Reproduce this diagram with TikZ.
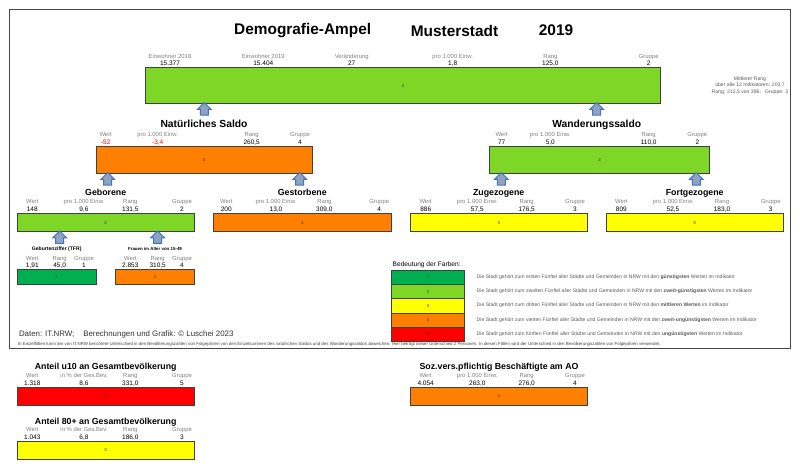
\documentclass[tikz,border=0pt]{standalone}
\usepackage{fontspec}
\setmainfont{Liberation Sans}
\usetikzlibrary{positioning,shapes.arrows}
\definecolor{group1color}{RGB}{0, 176, 80}
\definecolor{group2color}{RGB}{126, 215, 38}
\definecolor{group3color}{RGB}{255, 255, 0}
\definecolor{group4color}{RGB}{255, 128, 0}
\definecolor{group5color}{RGB}{255, 0, 0}
\definecolor{arrowcolor}{RGB}{68, 114, 196}
\definecolor{arrowfill}{RGB}{143, 163, 191}
\definecolor{framecolor}{RGB}{70, 70, 70}
\tikzset{
    txt/.style={inner sep=0pt, outer sep=0pt},
    main title/.style={txt, font=\fontsize{15.4}{18}\selectfont\bfseries},
    big head/.style={txt, text height=.75em, text depth=.2em, yshift=-0.8pt, font=\fontsize{10.3}{12}\selectfont\bfseries},
    head/.style={txt, text height=.75em, text depth=.2em, yshift=-0.7pt, font=\fontsize{8.8}{11}\selectfont\bfseries},
    small head/.style={txt, font=\fontsize{4.4}{6}\selectfont\bfseries},
    stat label/.style={txt, text=gray, text height=4.3pt, text depth=1.2pt, yshift=-0.6pt, font=\fontsize{5.9}{7}\selectfont},
    stat value/.style={txt, text height=4.6pt, text depth=1.2pt, font=\fontsize{6.5}{8}\selectfont},
    legend text/.style={txt, anchor=west, text=black!65, font=\fontsize{5.1}{6}\selectfont},
    note/.style={txt, text=black!75, font=\fontsize{4.38}{5}\selectfont},
    bar/.style={rectangle, draw=black!75, line width=0.9pt, inner sep=0pt, font=\fontsize{4.4}{5}\selectfont, text=black!80},
    group1/.style={bar, fill=group1color},
    group2/.style={bar, fill=group2color},
    group3/.style={bar, fill=group3color},
    group4/.style={bar, fill=group4color},
    group5/.style={bar, fill=group5color},
    up arrow/.style={single arrow, shape border rotate=90, draw=arrowcolor, fill=arrowfill, line width=1pt,
        inner sep=0pt, text width=7pt, minimum width=12.5pt, minimum height=12.5pt, single arrow head extend=2.8pt, single arrow head indent=0pt}
}
\begin{document}
\begin{tikzpicture}[x=1pt,y=-1pt]
\useasboundingbox (0,0) rectangle (800,469);
\node[rectangle, draw=framecolor, line width=1pt, inner sep=0pt, minimum width=781.5pt, minimum height=339pt] (frame) at (400,178.5) {};

% titles
\node[main title] (title) at (302.7,30.5) {Demografie-Ampel};
\node[main title] (city) at (454.5,30.5) {Musterstadt};
\node[main title] (year) at (556,30.5) {2019};

% bars
\node[group2, minimum width=515pt, minimum height=36pt] (total) at (403.1,85.6) {2};
\node[group4, minimum width=216.5pt, minimum height=27pt] (natural) at (204.2,159.5) {4};
\node[group2, minimum width=220.2pt, minimum height=27pt] (migration) at (599.6,159.5) {2};
\node[group2, minimum width=177.3pt, minimum height=17.6pt] (births) at (105.7,222.5) {2};
\node[group4, minimum width=178pt, minimum height=17.6pt] (deaths) at (302.3,222.5) {4};
\node[group3, minimum width=177pt, minimum height=17.6pt] (arrivals) at (498.8,222.5) {3};
\node[group3, minimum width=177pt, minimum height=17.6pt] (departures) at (694.5,222.5) {3};
\node[group1, minimum width=79.3pt, minimum height=14.7pt] (tfr) at (56.7,276.7) {1};
\node[group4, minimum width=79pt, minimum height=14.7pt] (women) at (154.8,276.7) {4};
\node[group5, minimum width=177.3pt, minimum height=18pt] (under) at (105.7,396) {5};
\node[group3, minimum width=177.3pt, minimum height=18pt] (over) at (105.7,450.3) {3};
\node[group4, minimum width=177pt, minimum height=18pt] (workers) at (498.8,396) {4};

% arrows
\foreach \name/\xx/\yy in {a/204.3/110.8, b/596.7/110.8, c/107.7/180.8, d/299.7/180.8, e/501.3/180.8, f/696.3/180.8, g/59.7/239.2, h/157.7/239.2}
    \node[up arrow] (arrow\name) at (\xx,\yy) {};

% headings
\node[big head] (hnatural) at (204,124.3) {Natürliches Saldo};
\node[big head] (hmigration) at (596.7,124.3) {Wanderungssaldo};
\node[head] (hbirths) at (105.7,192.3) {Geborene};
\node[head] (hdeaths) at (302.3,192.3) {Gestorbene};
\node[head] (harrivals) at (498.7,192.3) {Zugezogene};
\node[head] (hdepartures) at (694.7,192.3) {Fortgezogene};
\node[head] (hunder) at (105.7,366) {Anteil u10 an Gesamtbevölkerung};
\node[head] (hover) at (105.7,420.7) {Anteil 80+ an Gesamtbevölkerung};
\node[head] (hworkers) at (499,366) {Soz.vers.pflichtig Beschäftigte am AO};
\node[small head, font=\fontsize{5.1}{6}\selectfont\bfseries] (htfr) at (56.7,249.3) {Geburtenziffer (TFR)};
\node[small head] (hwomen) at (155,249.3) {Frauen im Alter von 15-49};

% labels and values
\foreach \name/\xx/\yy/\lab/\val in {
    ta/170/56/Einwohner 2018/15.377, tb/263.3/56/Einwohner 2019/15.404, tc/351.7/56/Veränderung/27,
    td/452.7/56/pro 1.000 Einw./{1,8}, te/550.3/56/Rang/{125,0}, tf/648.7/56/Gruppe/2,
    nc/251.7/134.3/Rang/{260,5}, nd/300/134.3/Gruppe/4,
    ma/501.7/134.3/Wert/77, mb/550.3/134.3/pro 1.000 Einw./{5,0}, mc/648.7/134.3/Rang/{110,0}, md/697.3/134.3/Gruppe/2,
    ba/32.3/201.7/Wert/148, bb/84/201.7/pro 1.000 Einw./{9,6}, bc/130.3/201.7/Rang/{131,5}, bd/182/201.7/Gruppe/2,
    da/226.3/201.7/Wert/200, db/276/201.7/pro 1.000 Einw./{13,0}, dc/324.3/201.7/Rang/{309,0}, dd/379.3/201.7/Gruppe/4,
    za/425.7/201.7/Wert/886, zb/477.3/201.7/pro 1.000 Einw./{57,5}, zc/526.7/201.7/Rang/{176,5}, zd/575/201.7/Gruppe/3,
    fa/621.3/201.7/Wert/809, fb/673/201.7/pro 1.000 Einw./{52,5}, fc/722/201.7/Rang/{183,0}, fd/770.7/201.7/Gruppe/3,
    ga/32.3/258/Wert/{1,91}, gb/59.7/258/Rang/{45,0}, gc/84/258/Gruppe/1,
    wa/130.3/258/Wert/2.853, wb/157.7/258/Rang/{310,5}, wc/182/258/Gruppe/4,
    ua/32.3/375.3/Wert/1.318, ub/84/375.3/in \% der Ges.Bev./{8,6}, uc/130.3/375.3/Rang/{331,0}, ud/182/375.3/Gruppe/5,
    oa/32.3/429.7/Wert/1.043, ob/84/429.7/in \% der Ges.Bev./{6,8}, oc/130.3/429.7/Rang/{186,0}, od/182/429.7/Gruppe/3,
    sa/425.7/375.3/Wert/4.054, sb/477.3/375.3/pro 1.000 Einw./{263,0}, sc/526.7/375.3/Rang/{276,0}, sd/575/375.3/Gruppe/4}{
    \node[stat label] (l\name) at (\xx,\yy) {\lab};
    \node[stat value, below=2pt of l\name] (v\name) {\val};
}
% the two negative ones are red
\node[stat label] (lna) at (105.7,134.3) {Wert};
\node[stat value, text=red, below=2pt of lna] (vna) {-52};
\node[stat label] (lnb) at (157.7,134.3) {pro 1.000 Einw.};
\node[stat value, text=red, below=2pt of lnb] (vnb) {-3,4};

% side note
\node[note, text=black!65, align=center, font=\fontsize{5.1}{6.4}\selectfont] (mean) at (750,85.3) {Mittlerer Rang\\über alle 12 Indikatoren: 203,7\\Rang: 212,5 von 396;\ \ \ Gruppe: 3};

% legend
\node[txt, anchor=west, font=\fontsize{6.6}{8}\selectfont] (legend) at (392.7,265) {Bedeutung der Farben:};
\foreach \n/\yy in {1/277.2, 2/291.5, 3/305.85, 4/320.2, 5/334.5}
    \node[group\n, minimum width=73pt, minimum height=14.35pt] (key\n) at (428.2,\yy) {\n};
\node[legend text] (text1) at (476.7,276.7) {Die Stadt gehört zum ersten Fünftel aller Städte und Gemeinden in NRW mit den \textbf{günstigsten} Werten im Indikator};
\node[legend text] (text2) at (476.7,291) {Die Stadt gehört zum zweiten Fünftel aller Städte und Gemeinden in NRW mit den \textbf{zweit-günstigsten} Werten im Indikator};
\node[legend text] (text3) at (476.7,305.2) {Die Stadt gehört zum dritten Fünftel aller Städte und Gemeinden in NRW mit den \textbf{mittleren Werten} im Indikator};
\node[legend text] (text4) at (476.7,319.7) {Die Stadt gehört zum vierten Fünftel aller Städte und Gemeinden in NRW mit den \textbf{zweit-ungünstigsten} Werten im Indikator};
\node[legend text] (text5) at (476.7,334) {Die Stadt gehört zum fünften Fünftel aller Städte und Gemeinden in NRW mit den \textbf{ungünstigsten} Werten im Indikator};

% source lines
\node[txt, anchor=west, text=black!80, font=\fontsize{7.9}{9}\selectfont] (source) at (19,334) {Daten: IT.NRW;};
\node[txt, anchor=west, text=black!80, font=\fontsize{7.9}{9}\selectfont] (credit) at (83.3,334) {Berechnungen und Grafik: © Luschei 2023};
\node[note, anchor=west] (remark) at (18,344.3) {In Einzelfällen kann der von IT.NRW berichtete Unterschied in den Bevölkerungszahlen von Folgejahren von den Einzelsummen des natürlichen Saldos und des Wanderungssaldos abweichen. Hier beträgt dieser Unterschied 2 Personen. In diesen Fällen wird der Unterschied in den Bevölkerungszahlen von Folgejahren verwendet.};
\end{tikzpicture}
\end{document}
